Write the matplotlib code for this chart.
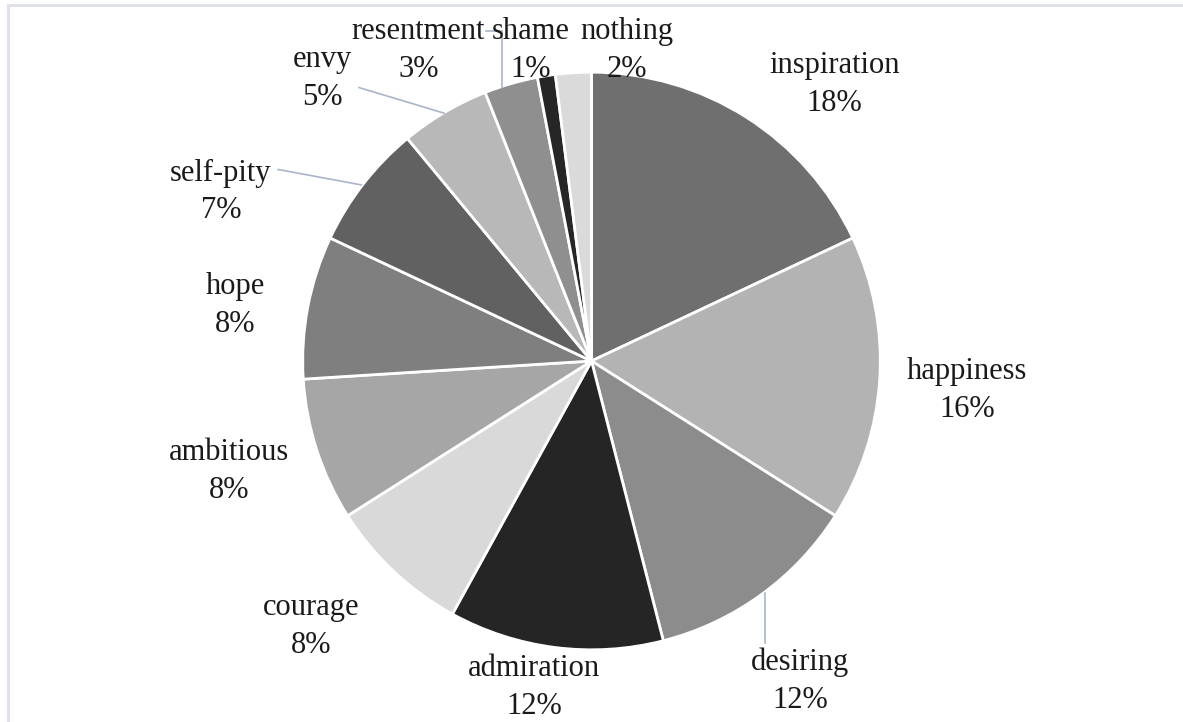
import matplotlib
matplotlib.use("Agg")
import matplotlib.pyplot as plt
from matplotlib.patches import Rectangle

labels = ["inspiration", "happiness", "desiring", "admiration", "courage", "ambitious",
          "hope", "self-pity", "envy", "resentment", "shame", "nothing"]
values = [18, 16, 12, 12, 8, 8, 8, 7, 5, 3, 1, 2]
colors = ["#6f6f6f", "#b3b3b3", "#8c8c8c", "#252525", "#d9d9d9", "#a6a6a6",
          "#7f7f7f", "#616161", "#b8b8b8", "#8f8f8f", "#262626", "#dadada"]

# pixel positions of label blocks (reference image), converted below
label_px = [(833, 95), (963, 394), (800, 678), (540, 684), (322, 624), (242, 473),
            (248, 311), (234, 200), (333, 89), (427, 62), (537, 62), (631, 62)]
# leader lines in pixels
leaders_px = [[(290, 178), (371, 193)],
              [(369, 98), (452, 123)],
              [(493, 43), (509, 43), (509, 97)],
              [(765, 592), (765, 640)]]

W, H = 1183, 722
cx, cy, R = 596, 365, 282

def to_data(p):
    return ((p[0] - cx) / R, (cy - p[1]) / R)

plt.rcParams['font.family'] = ['Liberation Serif', 'DejaVu Serif']

fig = plt.figure(figsize=(W / 100, H / 100), dpi=100)
ax = fig.add_axes([0, 0, 1, 1])
ax.set_xlim(-cx / R, (W - cx) / R)
ax.set_ylim((cy - H) / R, cy / R)
ax.set_aspect('equal')
ax.axis('off')

ax.pie(values, colors=colors, startangle=90, counterclock=False, radius=1,
       wedgeprops=dict(edgecolor='white', linewidth=2))

for lab, v, p in zip(labels, values, label_px):
    x, y = to_data(p)
    ax.text(x, y, f"{lab}\n{v}%", ha='center', va='center', fontsize=22,
            linespacing=1.4, color='#1a1a1a')

for seg in leaders_px:
    pts = [to_data(p) for p in seg]
    ax.plot([q[0] for q in pts], [q[1] for q in pts], color='#a9b5c8', lw=1.2)

fig.patches.append(Rectangle((8 / W, -0.1), 1.2, (H - 5) / H + 0.1, transform=fig.transFigure,
                             fill=False, edgecolor='#dde1e8', lw=2, zorder=0))

fig.savefig("out.png", dpi=100)
